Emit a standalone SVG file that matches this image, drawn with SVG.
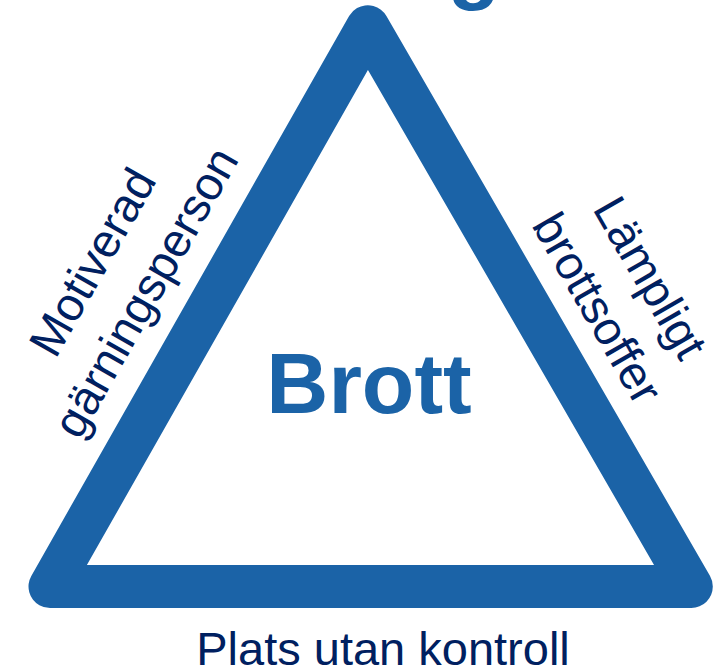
<svg xmlns="http://www.w3.org/2000/svg" width="713" height="670" viewBox="0 0 713 670">
<style>
.lbl{font-family:"Liberation Sans",Arial,sans-serif;fill:#002060;font-size:47px;text-anchor:middle}
.big{font-family:"Liberation Sans",Arial,sans-serif;font-weight:bold;fill:#1b63a7;text-anchor:middle}
</style>
<rect width="713" height="670" fill="#ffffff"/>
<text class="big" x="474" y="-7" font-size="86">g</text>
<g id="connectors">
<path id="triangle" d="M367.8,26.7 L50,586.5 L691.3,586.5 Z" fill="none" stroke="#1b63a7" stroke-width="43" stroke-linejoin="round"/>
</g>
<g id="brott"><text class="big" x="369" y="413" font-size="86">Brott</text></g>
<g id="motiverad" transform="translate(133,285) rotate(-60.4)">
<text class="lbl" x="0" y="-30.5">Motiverad</text>
<text class="lbl" x="0" y="30.5">gärningsperson</text>
</g>
<g id="lamplig" transform="translate(610,301) rotate(60)">
<text class="lbl" x="0" y="-30.5">Lämpligt</text>
<text class="lbl" x="0" y="30.5">brottsoffer</text>
</g>
<g id="plats"><text class="lbl" x="383" y="665" font-size="50">Plats utan kontroll</text></g>
</svg>
